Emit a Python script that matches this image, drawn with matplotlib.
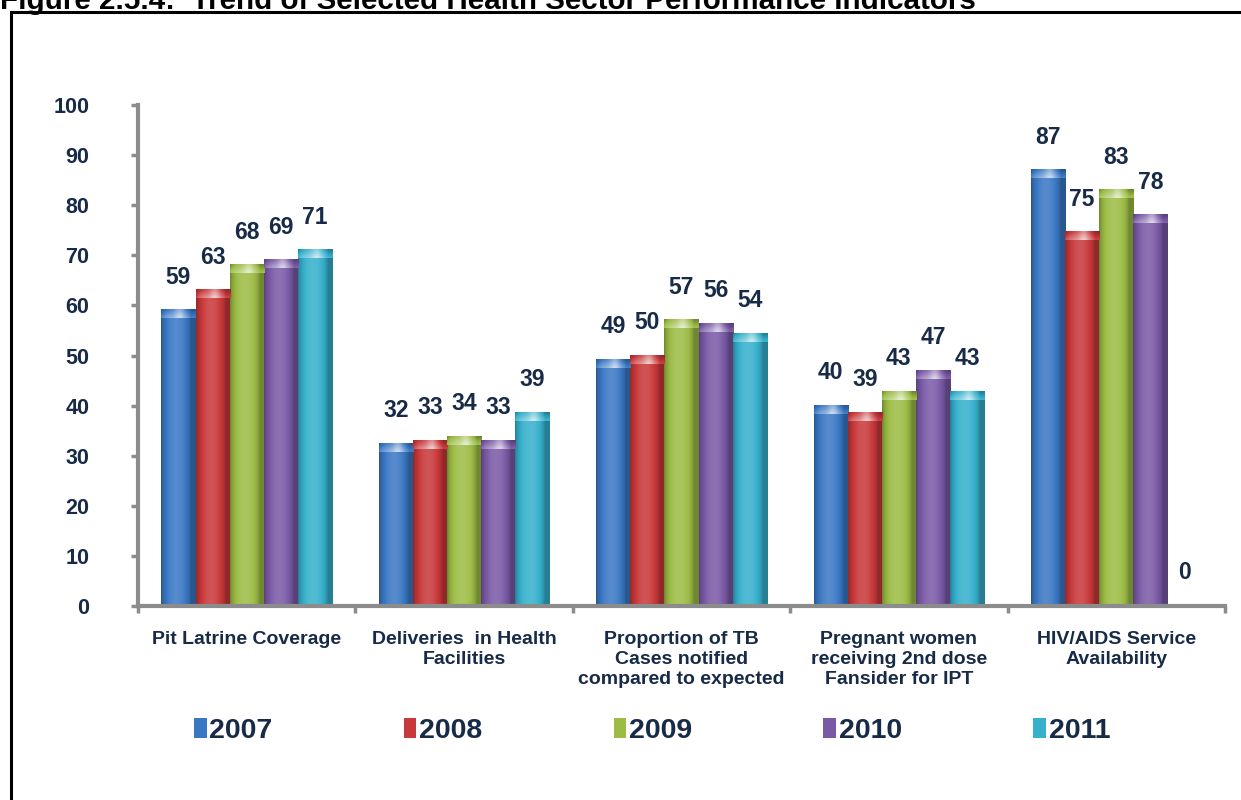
import numpy as np
import matplotlib.pyplot as plt
from matplotlib.patches import Patch, Rectangle
from matplotlib.colors import to_rgb

plt.rcParams['font.family'] = ['Liberation Sans', 'DejaVu Sans']

# Data
categories = ['Pit Latrine Coverage',
              'Deliveries  in Health\nFacilities',
              'Proportion of TB\nCases notified\ncompared to expected',
              'Pregnant women\nreceiving 2nd dose\nFansider for IPT',
              'HIV/AIDS Service\nAvailability']
years = ['2007', '2008', '2009', '2010', '2011']
v2007 = [59, 32.4, 49.2, 40.0, 87.0]
v2008 = [63, 33.0, 50.0, 38.6, 74.6]
v2009 = [68, 33.8, 57.0, 42.8, 83.0]
v2010 = [69, 33.0, 56.3, 47.0, 78.0]
v2011 = [71, 38.6, 54.3, 42.8, 0.0]
series = [v2007, v2008, v2009, v2010, v2011]
colors = ['#3a78c4', '#c8383a', '#9cbc45', '#7a5aa6', '#36b0cc']
yticks = [0, 10, 20, 30, 40, 50, 60, 70, 80, 90, 100]

navy = '#172a47'
axis_grey = '#8c8c8c'

fig = plt.figure(figsize=(12.41, 8), dpi=100)
ax = fig.add_axes([138 / 1241, 1 - 606 / 800, (1225 - 138) / 1241, (606 - 105) / 800])

# frame around the figure (partly cut off, like the page crop)
fig.patches.append(Rectangle((11 / 1241, -0.05), 1.2, 1 - 12 / 800 + 0.05,
                             transform=fig.transFigure, fill=False,
                             edgecolor='black', linewidth=2.2))
fig.text(0.0, 1 - 9 / 800, 'Figure 2.5.4:  Trend of Selected Health Sector Performance Indicators',
         fontsize=21.3, fontweight='bold', ha='left', va='baseline')


def shade(c, f):
    c = np.array(to_rgb(c))
    if f < 1:
        return c * f
    return c + (1 - c) * (f - 1)


def draw_bar(x0, w, h, color):
    if h <= 0:
        return
    t = np.linspace(0, 1, 40)
    prof = 0.72 + 0.42 * np.sin(np.pi * np.clip(t * 1.15, 0, 1)) ** 0.7
    body = np.array([shade(color, f) for f in prof])[None, :, :]
    ax.imshow(body, extent=[x0, x0 + w, 0, h], aspect='auto',
              interpolation='bilinear', zorder=2)
    cap = min(1.6, h)
    prof2 = prof + 0.3 * np.exp(-((t - 0.55) / 0.15) ** 2)
    capimg = np.array([[shade(color, min(f + 0.08 * k, 1.8)) for f in prof2]
                       for k in range(5)])
    ax.imshow(capimg, extent=[x0, x0 + w, h - cap, h], aspect='auto',
              interpolation='bilinear', zorder=3)


x = np.arange(len(categories))
bw = 0.157
for i, (vals, col) in enumerate(zip(series, colors)):
    offs = (i - 2) * bw
    for xi, v in zip(x, vals):
        draw_bar(xi + offs - bw / 2, bw, v, col)
        ax.text(xi + offs, v + 6.6, f'{v:.0f}', ha='center', va='center',
                fontsize=16.5, fontweight='bold', color=navy, zorder=4)

ax.set_xlim(-0.5, len(categories) - 0.5)
ax.set_ylim(0, 100)
ax.set_yticks(yticks)
ax.set_yticklabels([str(t) for t in yticks], fontsize=15.5, fontweight='bold', color=navy)
ax.set_xticks(x)
ax.set_xticklabels(categories, fontsize=14, fontweight='bold', color=navy,
                   linespacing=1.25, va='top')
ax.tick_params(axis='x', length=0, pad=18)
ax.set_xticks(np.arange(len(categories) + 1) - 0.5, minor=True)
ax.tick_params(axis='x', which='minor', length=5, width=2.5, color=axis_grey)
ax.tick_params(axis='y', length=5, width=2.5, color=axis_grey, pad=30)
for s in ['top', 'right']:
    ax.spines[s].set_visible(False)
for s in ['left', 'bottom']:
    ax.spines[s].set_color(axis_grey)
    ax.spines[s].set_linewidth(3)

handles = [Patch(facecolor=c, edgecolor='none') for c in colors]
leg = fig.legend(handles, years, loc='center', bbox_to_anchor=(652 / 1241, 1 - 731 / 800),
                 ncol=5, frameon=False, handlelength=0.45, handleheight=0.7,
                 handletextpad=0.1, columnspacing=4.6,
                 prop={'size': 20.5, 'weight': 'bold'})
for t in leg.get_texts():
    t.set_color(navy)

fig.savefig('out.png', dpi=100)
